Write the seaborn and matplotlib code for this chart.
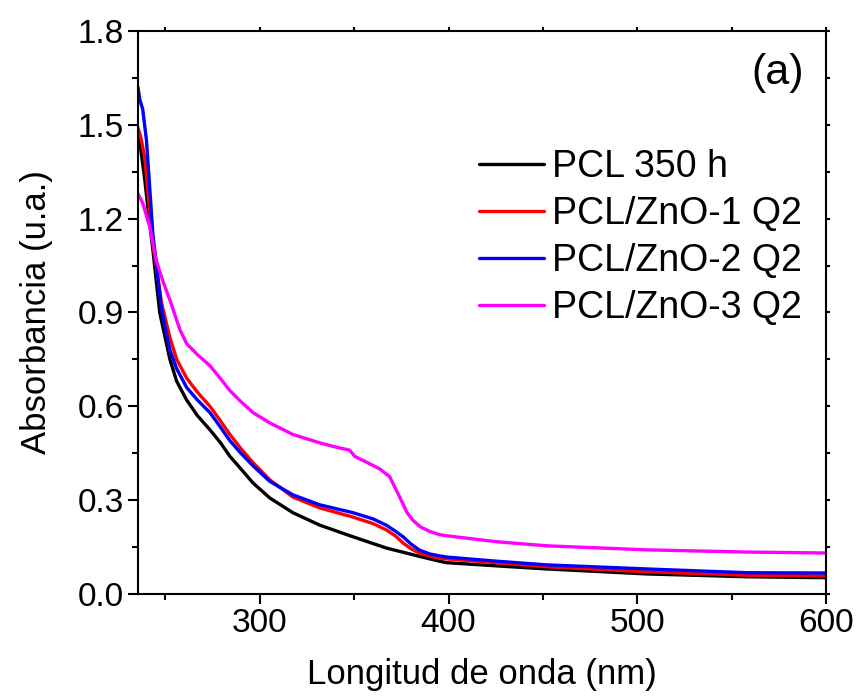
# UV-Vis absorbance spectra, PCL and PCL/ZnO films
import pandas as pd
import matplotlib
matplotlib.use("Agg")
import matplotlib.pyplot as plt
from matplotlib.ticker import MultipleLocator, FormatStrFormatter
import seaborn as sns

# data
labels = ["PCL 350 h", "PCL/ZnO-1 Q2", "PCL/ZnO-2 Q2", "PCL/ZnO-3 Q2"]
colors = ["black", "red", "blue", "magenta"]

x_pcl = [235.5, 237, 239, 241, 243.4, 247, 252.4, 256, 261.3, 267, 273.6, 279, 284.2, 290,
         296.4, 305.3, 317.5, 331.8, 349.3, 367, 384.7, 395, 399, 425, 452, 505, 558, 600]
y_pcl = [1.48, 1.42, 1.33, 1.22, 1.10, 0.90, 0.75, 0.68, 0.62, 0.57, 0.525, 0.485, 0.44, 0.40,
         0.355, 0.307, 0.26, 0.22, 0.183, 0.147, 0.12, 0.105, 0.10, 0.09, 0.08, 0.064, 0.055, 0.052]

x_zno1 = [235.5, 237, 239, 241, 243.4, 248, 252.4, 256, 261.3, 267, 273.6, 279, 284.2, 290,
          296.4, 305.3, 317.5, 331.8, 349.3, 360, 367, 372, 375.9, 380, 384.7, 390, 395, 399,
          425, 452, 505, 558, 600]
y_zno1 = [1.49, 1.46, 1.40, 1.27, 1.12, 0.93, 0.82, 0.75, 0.69, 0.645, 0.60, 0.555, 0.51, 0.465,
          0.42, 0.365, 0.31, 0.275, 0.246, 0.225, 0.205, 0.185, 0.163, 0.145, 0.13, 0.121, 0.115,
          0.112, 0.10, 0.087, 0.071, 0.06, 0.058]

x_zno2 = [235.5, 236.5, 238, 240, 243.4, 248, 252.4, 256, 261.3, 267, 273.6, 279, 284.2, 290,
          296.4, 305.3, 317.5, 331.8, 349.3, 360, 367, 372, 375.9, 380, 384.7, 390, 395, 399,
          425, 452, 505, 558, 600]
y_zno2 = [1.62, 1.58, 1.55, 1.45, 1.15, 0.91, 0.78, 0.72, 0.66, 0.62, 0.58, 0.535, 0.49, 0.45,
          0.41, 0.36, 0.317, 0.285, 0.26, 0.24, 0.22, 0.20, 0.183, 0.16, 0.14, 0.128, 0.122,
          0.118, 0.105, 0.093, 0.08, 0.068, 0.067]

x_zno3 = [235.5, 238, 241.9, 245, 248.7, 252.4, 257.7, 261.3, 267, 273.6, 279, 284.2, 290,
          296.4, 305.3, 317.5, 331.8, 340, 347.6, 350.3, 357, 363.5, 368.8, 374.1, 378, 381.2,
          385, 390, 395, 399, 425.5, 452, 505, 558, 600]
y_zno3 = [1.28, 1.25, 1.17, 1.07, 1.00, 0.94, 0.845, 0.80, 0.765, 0.73, 0.69, 0.65, 0.615,
          0.58, 0.547, 0.51, 0.483, 0.47, 0.46, 0.44, 0.42, 0.40, 0.375, 0.31, 0.26, 0.235,
          0.215, 0.20, 0.19, 0.186, 0.167, 0.154, 0.141, 0.134, 0.131]

xs = [x_pcl, x_zno1, x_zno2, x_zno3]
ys = [y_pcl, y_zno1, y_zno2, y_zno3]

df = pd.concat([pd.DataFrame({"x": x, "y": y, "muestra": lab})
                for x, y, lab in zip(xs, ys, labels)], ignore_index=True)

sns.set_style("ticks")
plt.rcParams["font.family"] = ["Liberation Sans", "DejaVu Sans"]
plt.rcParams["text.color"] = "black"
plt.rcParams["axes.labelcolor"] = "black"

fig = plt.figure(figsize=(8.57, 6.96), dpi=100)
ax = fig.add_axes([0.161, 0.1466, 0.803, 0.8089])

sns.lineplot(data=df, x="x", y="y", hue="muestra", palette=dict(zip(labels, colors)),
             estimator=None, sort=False, linewidth=2.4, ax=ax)

ax.set_xticks([300, 400, 500, 600])
ax.xaxis.set_minor_locator(MultipleLocator(50))
ax.yaxis.set_major_locator(MultipleLocator(0.3))
ax.yaxis.set_minor_locator(MultipleLocator(0.15))
ax.yaxis.set_major_formatter(FormatStrFormatter("%.1f"))
ax.set_xlim(235.5, 600)
ax.set_ylim(0, 1.8)

for s in ax.spines.values():
    s.set_linewidth(1.5)
    s.set_color("black")
ax.tick_params(which="major", length=7, width=1.5, labelsize=24, colors="black",
               labelcolor="black", pad=3)
ax.tick_params(which="minor", length=4, width=1.5, colors="black")
ax.tick_params(which="both", top=True, right=True)
# top/right ticks are tiny and point inward
for t in ax.xaxis.get_major_ticks() + ax.xaxis.get_minor_ticks():
    t.tick2line.set_markersize(3)
for t in ax.yaxis.get_major_ticks() + ax.yaxis.get_minor_ticks():
    t.tick2line.set_markersize(3)

ax.set_xlabel("Longitud de onda (nm)", fontsize=25, labelpad=14)
ax.set_ylabel("Absorbancia (u.a.)", fontsize=25, labelpad=18)

ax.legend(title=None, frameon=False, fontsize=27, loc="upper left",
          bbox_to_anchor=(0.495, 0.79), borderpad=0, borderaxespad=0,
          handlelength=1.75, handletextpad=0.2, labelspacing=0.29)

ax.text(0.929, 0.925, "(a)", transform=ax.transAxes, fontsize=31,
        ha="center", va="center")

fig.savefig("out.png", dpi=100)
